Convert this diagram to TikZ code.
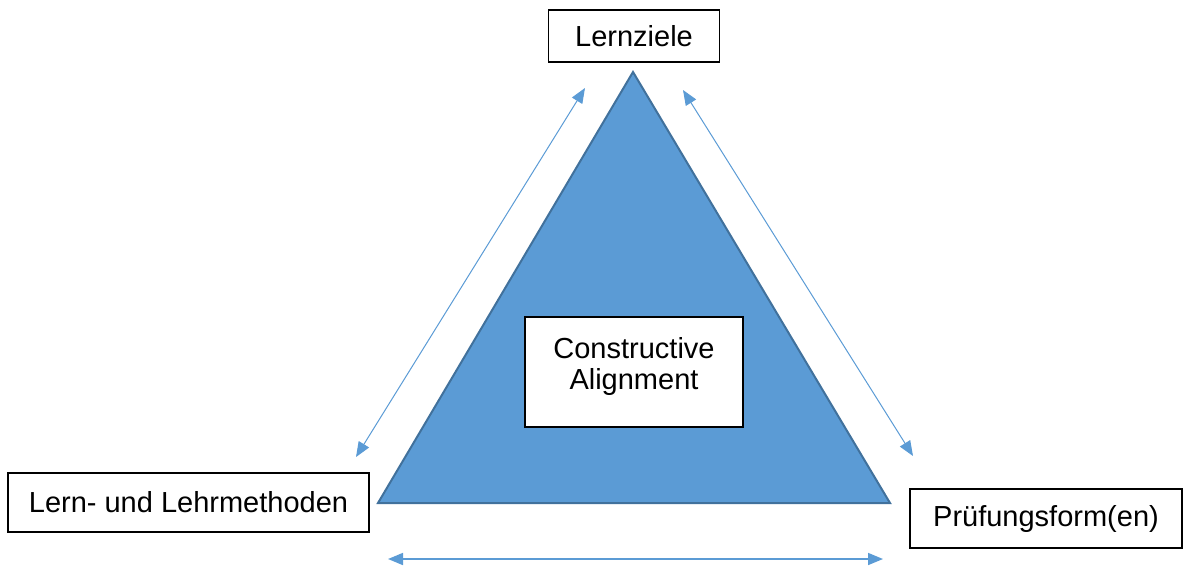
\documentclass[tikz,border=0pt]{standalone}
\usepackage{fontspec}
\setmainfont{Liberation Sans}
\usepackage{tikz}
\usetikzlibrary{arrows.meta,positioning}

\definecolor{triblue}{HTML}{5B9BD5}
\definecolor{triedge}{HTML}{41719C}

\begin{document}
\begin{tikzpicture}[x=1pt,y=-1pt,
        box/.style={draw=black, line width=1.2pt, fill=white, inner sep=0pt,
                font=\fontsize{29}{34}\selectfont, align=center},
        link/.style={triblue, line width=1pt, {Triangle[length=15pt,width=12pt]}-{Triangle[length=15pt,width=12pt]}}]
        \useasboundingbox (0,0) rectangle (1184,566);
        % triangle
        \coordinate (top) at (633,72);
        \coordinate (left) at (378,503);
        \coordinate (right) at (890,503);
        \draw[triedge, fill=triblue, line width=2pt, line join=miter] (top) -- (left) -- (right) -- cycle;
        \node[box, minimum width=218pt, minimum height=110pt, text depth=18pt] (ca) at (634,372) {Constructive\\[-3pt]Alignment};
        % corners
        \node[box, minimum width=171pt, minimum height=52pt] (ziele) at (634,36) {Lernziele};
        \node[box, minimum width=361pt, minimum height=59pt] (methoden) at (188.5,502.5) {Lern- und Lehrmethoden};
        \node[box, minimum width=272pt, minimum height=59pt] (pruefung) at (1046,518.5) {Prüfungsform(en)};
        % arrows
        \coordinate (l1) at (356,457);
        \coordinate (l2) at (585,88);
        \coordinate (r1) at (683,90);
        \coordinate (r2) at (913,456);
        \coordinate (b1) at (388,559);
        \coordinate (b2) at (883,559);
        \draw[link] (l1) -- (l2);
        \draw[link] (r1) -- (r2);
        \draw[link, line width=1.6pt] (b1) -- (b2);
\end{tikzpicture}
\end{document}
